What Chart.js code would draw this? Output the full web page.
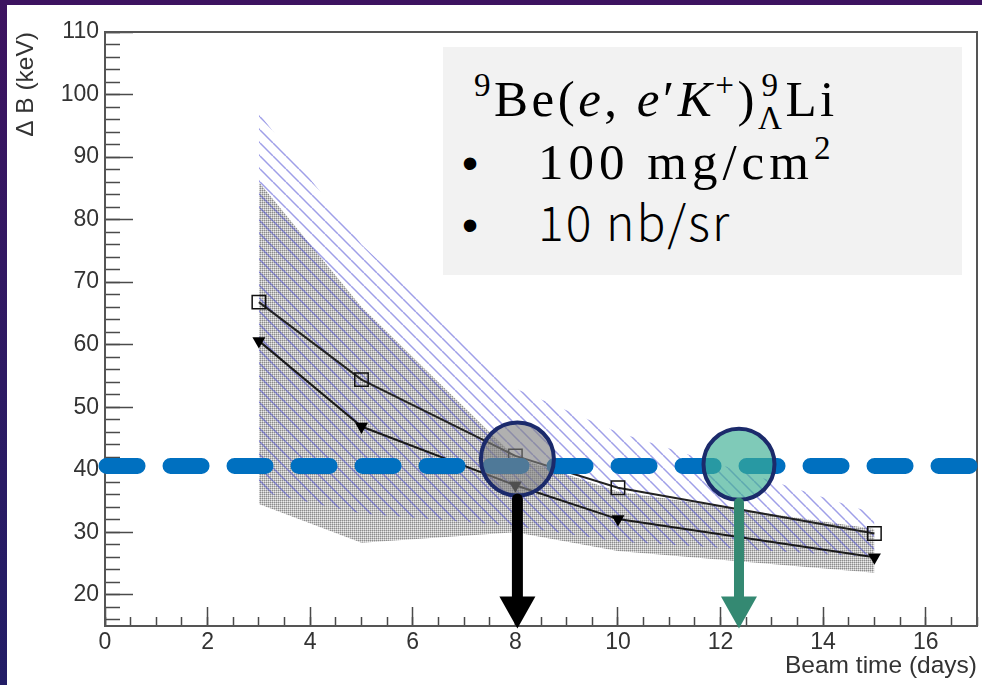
<!DOCTYPE html>
<html>
<head>
<meta charset="utf-8">
<title>Beam time vs Delta B</title>
<script src="https://cdn.jsdelivr.net/npm/chart.js@4.4.1/dist/chart.umd.min.js"></script>
<style>
  html, body { margin: 0; padding: 0; }
  body {
    width: 982px; height: 685px; overflow: hidden; position: relative;
    background: linear-gradient(180deg, #3d1360 0%, #2d1a63 55%, #221d66 100%);
  }
  #panel { position: absolute; left: 7px; top: 5px; right: 0; bottom: 0; background: #fff; }
  #wrap { position: absolute; left: 0; top: 0; width: 982px; height: 685px; }
  #note {
    position: absolute; left: 443px; top: 47px; width: 519px; height: 228px;
    background: #f2f2f2; color: #000;
  }
  #note .row { position: absolute; white-space: nowrap; line-height: 1; }
  .l1 { left: 31px; top: 21px; font: 51px "Liberation Serif", serif; letter-spacing: 3.5px; }
  .l1 sup { font-size: 0.65em; vertical-align: 0.6em; line-height: 0; }
  .stk { display: inline-flex; flex-direction: column; font-size: 0.65em; line-height: 1; vertical-align: 20px; text-align: center; }
  .l2 { left: 19px; top: 90px; font: 51px "Liberation Serif", serif; letter-spacing: 5px; }
  .l2 sup { font-size: 0.65em; vertical-align: 0.6em; line-height: 0; }
  .l3 { left: 19px; top: 149px; font: 300 48px "Noto Sans CJK JP", "Noto Sans", sans-serif; letter-spacing: 2px; }
  .bul { display: inline-block; width: 76px; font-family: "Liberation Sans", sans-serif; letter-spacing: 0; font-size: 46px; }
</style>
</head>
<body>
<div id="panel"></div>
<div id="wrap"><canvas id="beamChart" width="982" height="685"></canvas></div>
<div id="note">
  <div class="row l1"><sup>9</sup>Be(<i>e</i>, <i>e</i>′<i>K</i><sup>+</sup>)<span class="stk"><span>9</span><span>Λ</span></span>Li</div>
  <div class="row l2"><span class="bul">•</span>100 mg/cm<sup>2</sup></div>
  <div class="row l3"><span class="bul">•</span>10 nb/sr</div>
</div>
<script>
// --- values ---
const beamDays = [3, 5, 8, 10, 15];
const dbSquares = [66.8, 54.4, 42.2, 37.1, 29.8];
const dbTriangles = [60.6, 46.9, 37.5, 32.1, 26.0];
const hatchUpper = [97, 76, 53, 46, 33];
const hatchLower = [36.5, 33, 31, 28.5, 26];
const dotUpper = [86, 66, 42, 36.5, 30.5];
const dotLower = [34.5, 28.3, 30, 27, 23.5];

const thresholdDB = 40.6;
const thresholdSpan = [0.03, 17.2];
const goalDays = [8.04, 12.36];
const goalDB = [41.7, 40.85];
const arrowTipDB = 14.6;

const xTicks = [0, 2, 4, 6, 8, 10, 12, 14, 16];
const yTicks = [20, 30, 40, 50, 60, 70, 80, 90, 100, 110];

const pts = (xs, ys) => xs.map((x, i) => ({ x: x, y: ys[i] }));

// fill patterns (ROOT style dotted grey + blue hatch)
function dotPattern() {
  const c = document.createElement('canvas');
  c.width = 2; c.height = 2;
  const g = c.getContext('2d');
  g.fillStyle = '#8c8c8c'; g.fillRect(0, 0, 1, 1);
  g.fillStyle = '#c0c0c0'; g.fillRect(1, 0, 1, 1); g.fillRect(0, 1, 1, 1);
  g.fillStyle = '#ebebeb'; g.fillRect(1, 1, 1, 1);
  return g.createPattern(c, 'repeat');
}
function hatchPattern() {
  const s = 13;
  const c = document.createElement('canvas');
  c.width = s; c.height = s;
  const g = c.getContext('2d');
  g.strokeStyle = 'rgba(70,70,210,0.52)';
  g.lineWidth = 1.5;
  [-s, 0, s].forEach(k => { g.beginPath(); g.moveTo(k, 0); g.lineTo(k + s, s); g.stroke(); });
  return g.createPattern(c, 'repeat');
}

// no label-overflow padding: the frame is placed by the layout padding alone
const noPad = s => { s.paddingTop = 0; s.paddingBottom = 0; s.paddingLeft = 0; s.paddingRight = 0; };

const frame = {
  id: 'frame',
  beforeDatasetsDraw(chart) {
    const { ctx, chartArea: a } = chart;
    ctx.save();
    ctx.strokeStyle = '#555';
    ctx.lineWidth = 2;
    ctx.strokeRect(a.left, a.top, a.right - a.left, a.bottom - a.top);
    ctx.restore();
  }
};

const arrows = {
  id: 'arrows',
  afterDatasetsDraw(chart) {
    const { ctx } = chart;
    const xs = chart.scales.x, ys = chart.scales.y;
    const colors = ['#000000', '#348972'];
    const radii = [36.5, 35.5];
    const shaftW = [11, 10];
    ctx.save();
    goalDays.forEach((d, i) => {
      const x = xs.getPixelForValue(d);
      const top = ys.getPixelForValue(goalDB[i]) + radii[i] - 2;
      const tip = ys.getPixelForValue(arrowTipDB);
      const headLen = 32, headHalf = 18;
      ctx.fillStyle = colors[i];
      ctx.beginPath();
      ctx.moveTo(x - shaftW[i] / 2, top + shaftW[i] / 2);
      ctx.arc(x, top + shaftW[i] / 2, shaftW[i] / 2, Math.PI, 0);
      ctx.lineTo(x + shaftW[i] / 2, tip - headLen + 1);
      ctx.lineTo(x - shaftW[i] / 2, tip - headLen + 1);
      ctx.closePath();
      ctx.fill();
      ctx.beginPath();
      ctx.moveTo(x - headHalf, tip - headLen);
      ctx.lineTo(x + headHalf, tip - headLen);
      ctx.lineTo(x, tip);
      ctx.closePath();
      ctx.fill();
    });
    ctx.restore();
  }
};

Chart.defaults.font.family = '"Liberation Sans", Arial, sans-serif';
Chart.defaults.color = '#333';

new Chart(document.getElementById('beamChart'), {
  type: 'line',
  data: {
    datasets: [
      { label: 'hatch low', data: pts(beamDays, hatchLower), borderWidth: 0, pointRadius: 0, fill: false, order: 4 },
      { label: 'hatch band', data: pts(beamDays, hatchUpper), borderWidth: 0, pointRadius: 0,
        fill: '-1', backgroundColor: hatchPattern(), order: 3 },
      { label: 'dot low', data: pts(beamDays, dotLower), borderWidth: 0, pointRadius: 0, fill: false, order: 6 },
      { label: 'dot band', data: pts(beamDays, dotUpper), borderWidth: 0, pointRadius: 0,
        fill: '-1', backgroundColor: dotPattern(), order: 5 },
      { label: 'squares', data: pts(beamDays, dbSquares), borderColor: '#222', borderWidth: 2,
        pointStyle: 'rect', pointRadius: 9.5, pointBorderWidth: 1.5, pointBorderColor: '#111',
        pointBackgroundColor: 'rgba(0,0,0,0)', fill: false, order: 2 },
      { label: 'triangles', data: pts(beamDays, dbTriangles), borderColor: '#1a1a1a', borderWidth: 2,
        pointStyle: 'triangle', pointRotation: 180, pointRadius: 7.5, pointBorderWidth: 0,
        pointBackgroundColor: '#000', fill: false, order: 2 },
      { label: 'threshold', data: pts(thresholdSpan, [thresholdDB, thresholdDB]), borderColor: '#0070c0',
        borderWidth: 16, borderDash: [31, 33], borderCapStyle: 'round', pointRadius: 0, fill: false,
        clip: false, order: 1 },
      { label: 'goals', data: pts(goalDays, goalDB), showLine: false, pointRadius: [36.5, 35.5],
        pointBackgroundColor: ['rgba(128,128,128,0.62)', 'rgba(61,174,147,0.66)'],
        pointBorderColor: '#1b2a6b', pointBorderWidth: 4, clip: false, order: 0 }
    ]
  },
  options: {
    responsive: false,
    animation: false,
    events: [],
    layout: { autoPadding: false, padding: { top: 32, right: 5, left: 0, bottom: 0 } },
    plugins: { legend: { display: false }, tooltip: { enabled: false } },
    scales: {
      x: {
        type: 'linear', position: 'bottom', min: 0, max: 17, weight: 0,
        afterFit: s => { s.height = 59; noPad(s); },
        afterBuildTicks: s => { s.ticks = xTicks.map(v => ({ value: v })); },
        border: { display: true, color: '#555', width: 2 },
        grid: { drawOnChartArea: false, drawTicks: true, tickLength: -19, tickColor: '#4a4a4a', tickWidth: 1.5 },
        ticks: { padding: 22, font: { size: 23 }, color: '#333', maxRotation: 0, autoSkip: false },
        title: { display: true, text: 'Beam time (days)', align: 'end', color: '#333',
                 font: { size: 24.5 }, padding: { top: 0, bottom: 4 } }
      },
      xMinor: {
        type: 'linear', position: 'bottom', min: 0, max: 17, weight: -1,
        afterFit: s => { s.height = 0; noPad(s); },
        border: { display: false },
        grid: { drawOnChartArea: false, drawTicks: true, tickLength: -9, tickColor: '#4a4a4a', tickWidth: 1.5 },
        ticks: { display: false, stepSize: 0.5, includeBounds: false, autoSkip: false }
      },
      y: {
        type: 'linear', position: 'left', min: 15, max: 110, weight: 0,
        afterFit: s => { s.width = 105; noPad(s); },
        afterBuildTicks: s => { s.ticks = yTicks.map(v => ({ value: v })); },
        border: { display: true, color: '#555', width: 2 },
        grid: { drawOnChartArea: false, drawTicks: true, tickLength: -28, tickColor: '#4a4a4a', tickWidth: 1.5 },
        ticks: { padding: 34, font: { size: 23 }, color: '#333', autoSkip: false },
        title: { display: true, text: 'Δ B (keV)', align: 'end', color: '#333',
                 font: { size: 24.5 }, padding: { top: 12, bottom: 0 } }
      },
      yMinor: {
        type: 'linear', position: 'left', min: 15, max: 110, weight: -1,
        afterFit: s => { s.width = 0; noPad(s); },
        border: { display: false },
        grid: { drawOnChartArea: false, drawTicks: true, tickLength: -15, tickColor: '#4a4a4a', tickWidth: 1.5 },
        ticks: { display: false, stepSize: 2, includeBounds: false, autoSkip: false }
      }
    }
  },
  plugins: [frame, arrows]
});
</script>
</body>
</html>
